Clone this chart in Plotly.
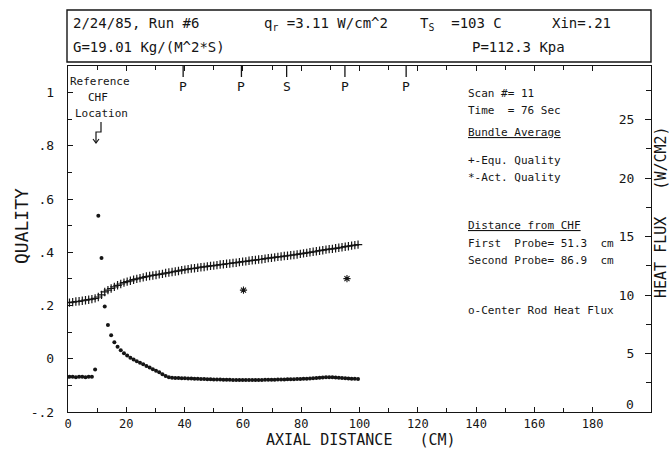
import plotly.graph_objects as go

# Axial stations of the scan (cm)
axial_cm = [0.5, 1.6, 2.7, 3.8, 4.9, 6.0, 7.1, 8.2, 9.3, 10.4,
            11.5, 12.6, 13.7, 14.8, 15.9, 17.0, 18.1, 19.2, 20.3, 21.4,
            22.5, 23.6, 24.7, 25.8, 26.9, 28.0, 29.1, 30.2, 31.3, 32.4,
            33.5, 34.6, 35.7, 36.8, 37.9, 39.0, 40.1, 41.2, 42.3, 43.4,
            44.5, 45.6, 46.7, 47.8, 48.9, 50.0, 51.1, 52.2, 53.3, 54.4,
            55.5, 56.6, 57.7, 58.8, 59.9, 61.0, 62.1, 63.2, 64.3, 65.4,
            66.5, 67.6, 68.7, 69.8, 70.9, 72.0, 73.1, 74.2, 75.3, 76.4,
            77.5, 78.6, 79.7, 80.8, 81.9, 83.0, 84.1, 85.2, 86.3, 87.4,
            88.5, 89.6, 90.7, 91.8, 92.9, 94.0, 95.1, 96.2, 97.3, 98.4,
            99.5]

# Bundle-average equilibrium quality (+)
equ_quality = [0.211, 0.213, 0.215, 0.216, 0.218, 0.220, 0.222, 0.224, 0.227, 0.232,
               0.240, 0.251, 0.258, 0.264, 0.270, 0.276, 0.281, 0.286, 0.290, 0.293,
               0.297, 0.300, 0.303, 0.306, 0.309, 0.311, 0.313, 0.315, 0.317, 0.319,
               0.322, 0.324, 0.326, 0.328, 0.330, 0.333, 0.335, 0.337, 0.339, 0.340,
               0.342, 0.344, 0.345, 0.347, 0.349, 0.350, 0.352, 0.354, 0.355, 0.357,
               0.358, 0.360, 0.361, 0.363, 0.365, 0.366, 0.368, 0.370, 0.371, 0.373,
               0.374, 0.376, 0.378, 0.379, 0.381, 0.383, 0.384, 0.386, 0.387, 0.389,
               0.390, 0.392, 0.394, 0.396, 0.398, 0.400, 0.402, 0.404, 0.406, 0.408,
               0.410, 0.412, 0.413, 0.415, 0.417, 0.419, 0.421, 0.423, 0.425, 0.427,
               0.429]

# Bundle-average actual quality (*)
act_quality = [-0.068, -0.068, -0.069, -0.068, -0.068, -0.069, -0.068, -0.068, -0.040, 0.537,
               0.379, 0.196, 0.127, 0.088, 0.062, 0.045, 0.032, 0.021, 0.012, 0.004,
               -0.003, -0.009, -0.015, -0.021, -0.027, -0.033, -0.039, -0.045, -0.051, -0.058,
               -0.065, -0.069, -0.071, -0.072, -0.072, -0.073, -0.073, -0.074, -0.074, -0.075,
               -0.075, -0.076, -0.076, -0.077, -0.077, -0.078, -0.078, -0.078, -0.079, -0.079,
               -0.079, -0.080, -0.080, -0.080, -0.080, -0.080, -0.080, -0.080, -0.080, -0.080,
               -0.080, -0.079, -0.079, -0.079, -0.079, -0.078, -0.078, -0.078, -0.077, -0.077,
               -0.077, -0.076, -0.076, -0.075, -0.075, -0.074, -0.073, -0.072, -0.071, -0.070,
               -0.069, -0.069, -0.069, -0.070, -0.071, -0.072, -0.073, -0.074, -0.075, -0.075,
               -0.076]

# Probe measurements of actual quality
probe_cm = [60.2, 95.7]
probe_quality = [0.258, 0.301]

# Instrument stations along the top edge
station_cm = [39.5, 59.5, 75.0, 95.0, 116.0]
station_labels = ["P", "P", "S", "P", "P"]

# Tick labels
x_ticks = [0, 20, 40, 60, 80, 100, 120, 140, 160, 180]
x_ticklabels = ["0", "20", "40", "60", "80", "100", "120", "140", "160", "180"]
q_ticks = [-0.2, 0.0, 0.2, 0.4, 0.6, 0.8, 1.0]
q_ticklabels = ["-.2", "0", ".2", ".4", ".6", ".8", "1"]
hf_ticks = [5, 10, 15, 20, 25]
hf_ticklabels = ["5", "10", "15", "20", "25"]
hf_zero_label = "0"

assert len(axial_cm) == len(equ_quality) == len(act_quality)

INK = "#151515"
MONO = "DejaVu Sans Mono"
W, H = 669, 451
ML, MR, MT, MB = 68, 18, 66, 39
PW, PH = W - ML - MR, H - MT - MB
NB = "\u00a0"


def px_x(px):
    return (px - ML) / PW


def px_y(py):
    return (H - MB - py) / PH


fig = go.Figure()

fig.add_trace(go.Scatter(
    x=axial_cm, y=equ_quality, mode="markers", name="Equ. Quality",
    marker=dict(symbol="cross-thin-open", size=6, color=INK,
                line=dict(width=1.2, color=INK)),
))
fig.add_trace(go.Scatter(
    x=axial_cm, y=act_quality, mode="markers", name="Act. Quality",
    marker=dict(symbol="circle", size=4, color=INK, line=dict(width=0)),
))
fig.add_trace(go.Scatter(
    x=probe_cm, y=probe_quality, mode="markers", name="Probe",
    marker=dict(symbol="asterisk-open", size=6, color=INK,
                line=dict(width=1.1, color=INK)),
))
# Center rod heat flux axis (no samples in this scan)
fig.add_trace(go.Scatter(x=[], y=[], yaxis="y2", mode="markers",
                         name="Center Rod Heat Flux"))

axis_common = dict(showgrid=False, zeroline=False, showline=True,
                   linecolor=INK, linewidth=1.4, ticks="inside",
                   tickcolor=INK, tickwidth=1.2)
tick_font = dict(family=MONO, size=13, color=INK)

fig.update_layout(
    width=W, height=H,
    margin=dict(l=ML, r=MR, t=MT, b=MB, pad=0),
    paper_bgcolor="white", plot_bgcolor="white",
    showlegend=False,
    xaxis=dict(range=[0, 200], tickvals=x_ticks, ticktext=x_ticklabels,
               ticklen=5, mirror="ticks",
               tickfont=dict(family=MONO, size=12, color=INK),
               minor=dict(dtick=10, tick0=0, ticks="inside", ticklen=4,
                          tickcolor=INK, tickwidth=1.1),
               **axis_common),
    yaxis=dict(range=[-0.2, 1.1], tickvals=q_ticks, ticktext=q_ticklabels,
               ticklen=5, mirror=True, ticklabelstandoff=10,
               tickfont=tick_font,
               minor=dict(dtick=0.1, tick0=0, ticks="inside", ticklen=4,
                          tickcolor=INK, tickwidth=1.1),
               **axis_common),
    yaxis2=dict(range=[0, 29.6], overlaying="y", side="right",
                tickvals=hf_ticks, ticktext=hf_ticklabels, ticklen=6,
                ticklabelposition="inside", ticklabelstandoff=10,
                tickfont=tick_font,
                minor=dict(dtick=2.5, tick0=0, ticks="inside", ticklen=5,
                           tickcolor=INK, tickwidth=1.1),
                **axis_common),
)

shapes = []
annotations = []

# Run header box
shapes.append(dict(type="rect", xref="paper", yref="paper",
                   x0=px_x(67), x1=1.0, y0=px_y(62), y1=px_y(10),
                   line=dict(color=INK, width=1.4)))


def note(text, x, y, size=14, xanchor="left", yanchor="middle", **kw):
    annotations.append(dict(text=text, xref="paper", yref="paper",
                            x=px_x(x), y=px_y(y), xanchor=xanchor,
                            yanchor=yanchor, showarrow=False,
                            font=dict(family=MONO, size=size, color=INK),
                            **kw))


note("2/24/85, Run #6", 71, 23)
note("G=19.01 Kg/(M^2*S)", 71, 47)
note("q<sub>r</sub>" + NB + "=3.11 W/cm^2", 262, 24)
note("T<sub>S</sub>" + NB * 2 + "=103 C", 418, 24)
note("Xin=.21", 550, 23)
note("P=112.3 Kpa", 470, 47)

# Run information inside the plot
info = [
    ("Scan #= 11", 93),
    ("Time" + NB * 2 + "= 76 Sec", 110),
    ("<u>Bundle Average</u>", 132),
    ("+-Equ. Quality", 160),
    ("*-Act. Quality", 177),
    ("<u>Distance from CHF</u>", 225),
    ("First" + NB * 2 + "Probe= 51.3" + NB * 2 + "cm", 243),
    ("Second Probe= 86.9" + NB * 2 + "cm", 260),
    ("o-Center Rod Heat Flux", 310),
]
for txt, yy in info:
    note(txt, 466, yy, size=11)

# Zero of the heat flux scale, set just above the bottom edge
note(hf_zero_label, 630, 404, size=13, xanchor="center")

# Axis titles
note("QUALITY", 21, 226, size=18, xanchor="center", textangle=-90)
note("AXIAL" + NB + "DISTANCE" + NB * 3 + "(CM)", 361, 451, size=15,
     xanchor="center", yanchor="bottom")
note("HEAT" + NB + "FLUX" + NB * 3 + "(W/CM2)", 661, 212, size=15,
     xanchor="center", textangle=-90)


def dx(px):
    return (px - ML) / PW * 200


def dy(py):
    return 1.1 - (py - MT) / PH * 1.3


# Reference CHF location marker
for txt, cx, cy in [("Reference", 100, 81), ("CHF", 98, 97),
                    ("Location", 101, 113)]:
    annotations.append(dict(text=txt, x=dx(cx), y=dy(cy), xref="x",
                            yref="y", showarrow=False, xanchor="center",
                            yanchor="middle",
                            font=dict(family=MONO, size=11, color=INK)))

shapes.append(dict(type="path", xref="x", yref="y",
                   path=f"M {dx(101)} {dy(122)} L {dx(101)} {dy(132)} "
                        f"L {dx(96)} {dy(132)} L {dx(96)} {dy(143)}",
                   line=dict(color=INK, width=1.2)))
shapes.append(dict(type="path", xref="x", yref="y",
                   path=f"M {dx(93)} {dy(139)} L {dx(96)} {dy(143)} "
                        f"L {dx(99)} {dy(139)}",
                   line=dict(color=INK, width=1.2)))

# Instrument stations on the top edge
for xs, lab in zip(station_cm, station_labels):
    shapes.append(dict(type="line", xref="x", yref="y", x0=xs, x1=xs,
                       y0=1.1, y1=dy(77), line=dict(color=INK, width=1.3)))
    annotations.append(dict(text=lab, x=xs, y=dy(86), xref="x", yref="y",
                            showarrow=False, xanchor="center",
                            yanchor="middle",
                            font=dict(family=MONO, size=13, color=INK)))

fig.update_layout(shapes=shapes, annotations=annotations)

fig.write_html("out.html")
